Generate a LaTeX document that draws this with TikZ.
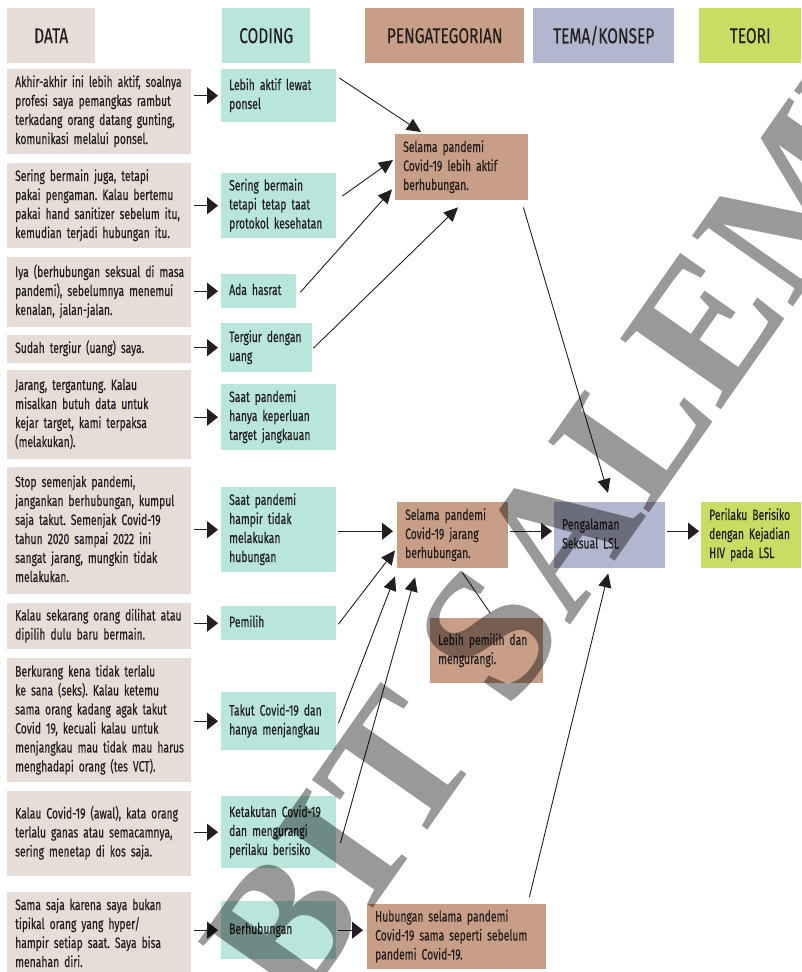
\documentclass[tikz,border=0pt]{standalone}
\usepackage{fontspec}
\setmainfont{Fira Sans}[FakeStretch=0.69, WordSpace=0.7, FakeBold=0.35]
\newfontfamily\headfont{Fira Sans}[FakeStretch=0.72, FakeBold=0.3]
\newfontfamily\markfont{Liberation Serif}
\usetikzlibrary{arrows.meta,calc}

\definecolor{ink}{HTML}{231F20}
\definecolor{datacol}{HTML}{E7DDD8}
\definecolor{codecol}{HTML}{B8E6DD}
\definecolor{catcol}{HTML}{C99E86}
\definecolor{temacol}{HTML}{B3B6CF}
\definecolor{teoricol}{HTML}{C9DC64}

% left-aligned lines that never wrap
\newcommand{\rows}[1]{\noindent\begin{tabular}{@{}l@{}}#1\end{tabular}}
\frenchspacing

\begin{document}
\begin{tikzpicture}[x=1pt,y=-1pt,
  bodyfont/.style={font=\fontsize{15}{19}\selectfont},
  box/.style={anchor=north west, inner xsep=8pt, inner ysep=0pt, align=left,
              text=ink, bodyfont},
  ht/.style={minimum height=#1},
  databox/.style={box, fill=datacol, text width=168pt},
  codebox/.style={box, fill=codecol, text width=99pt},
  catbox/.style={box, fill=catcol},
  head/.style={anchor=north west, inner sep=0pt, minimum height=55pt,
               text=ink, font=\headfont\fontsize{21.5}{24}\selectfont},
  shortarr/.style={ink, line width=1.3pt, -{Triangle[length=11pt,width=17pt]}},
  longarr/.style={ink, line width=0.9pt, -{Triangle[length=14pt,width=13pt]}},
  plain/.style={ink, line width=0.9pt}
]
\useasboundingbox (0,0) rectangle (801,972);

% column headers
\node[head, fill=datacol,  minimum width=88pt]  (hdata) at (7,8)   {DATA};
\node[head, fill=codecol,  minimum width=88pt]  (hcode) at (222,8) {CODING};
\node[head, fill=catcol,   minimum width=159pt] (hcat)  at (365,8) {PENGATEGORIAN};
\node[head, fill=temacol,  minimum width=141pt] (htema) at (533,8) {TEMA/KONSEP};
\node[head, fill=teoricol, minimum width=102pt] (hteori) at (699,8) {TEORI};

% data column
\node[databox, ht=85pt] (d1) at (7,69) {\rows{Akhir-akhir ini lebih aktif, soalnya\\profesi saya pemangkas rambut\\terkadang orang datang gunting,\\komunikasi melalui ponsel.}};
\node[databox, ht=85pt] (d2) at (7,163) {\rows{Sering bermain juga, tetapi\\pakai pengaman. Kalau bertemu\\pakai hand sanitizer sebelum itu,\\kemudian terjadi hubungan itu.}};
\node[databox, ht=70pt] (d3) at (7,257) {\rows{Iya (berhubungan seksual di masa\\pandemi), sebelumnya menemui\\kenalan, jalan-jalan.}};
\node[databox, ht=28pt] (d4) at (7,335) {\rows{Sudah tergiur (uang) saya.}};
\node[databox, ht=89pt] (d5) at (7,370) {\rows{Jarang, tergantung. Kalau\\misalkan butuh data untuk\\kejar target, kami terpaksa\\(melakukan).}};
\node[databox, ht=127pt] (d6) at (7,467) {\rows{Stop semenjak pandemi,\\jangankan berhubungan, kumpul\\saja takut. Semenjak Covid-19\\tahun 2020 sampai 2022 ini\\sangat jarang, mungkin tidak\\melakukan.}};
\node[databox, ht=46pt] (d7) at (7,603) {\rows{Kalau sekarang orang dilihat atau\\dipilih dulu baru bermain.}};
\node[databox, ht=124pt] (d8) at (7,658) {\rows{Berkurang kena tidak terlalu\\ke sana (seks). Kalau ketemu\\sama orang kadang agak takut\\Covid 19, kecuali kalau untuk\\menjangkau mau tidak mau harus\\menghadapi orang (tes VCT).}};
\node[databox, ht=85pt] (d9) at (7,791) {\rows{Kalau Covid-19 (awal), kata orang\\terlalu ganas atau semacamnya,\\sering menetap di kos saja.}};
\node[databox, ht=85pt] (d10) at (7,892) {\rows{Sama saja karena saya bukan\\tipikal orang yang hyper/\\hampir setiap saat. Saya bisa\\menahan diri.}};

% coding column
\node[codebox, ht=53pt] (c1) at (221,69) {\rows{Lebih aktif lewat\\ponsel}};
\node[codebox, ht=65pt] (c2) at (221,173) {\rows{Sering bermain\\tetapi tetap taat\\protokol kesehatan}};
\node[codebox, ht=34pt, text width=59pt] (c3) at (221,274) {\rows{Ada hasrat}};
\node[codebox, ht=49pt, text width=75pt] (c4) at (221,323) {\rows{Tergiur dengan\\uang}};
\node[codebox, ht=66pt] (c5) at (221,384) {\rows{Saat pandemi\\hanya keperluan\\target jangkauan}};
\node[codebox, ht=85pt] (c6) at (221,487) {\rows{Saat pandemi\\hampir tidak\\melakukan\\hubungan}};
\node[codebox, ht=34pt] (c7) at (221,606) {\rows{Pemilih}};
\node[codebox, ht=58pt] (c8) at (221,692) {\rows{Takut Covid-19 dan\\hanya menjangkau}};
\node[codebox, ht=72pt] (c9) at (221,796) {\rows{Ketakutan Covid-19\\dan mengurangi\\perilaku berisiko}};
\node[codebox, ht=58pt] (c10) at (221,901) {\rows{Berhubungan}};

% categories
\node[catbox, ht=66pt, text width=117pt] (k1) at (395,134) {\rows{Selama pandemi\\Covid-19 lebih aktif\\berhubungan.}};
\node[catbox, ht=66pt, text width=95pt] (k2) at (397,502) {\rows{Selama pandemi\\Covid-19 jarang\\berhubungan.}};
\node[catbox, ht=65pt, text width=97pt] (k3) at (430,618) {\rows{Lebih pemilih dan\\mengurangi.}};
\node[catbox, ht=65pt, text width=163pt] (k4) at (367,904) {\rows{Hubungan selama pandemi\\Covid-19 sama seperti sebelum\\pandemi Covid-19.}};

% theme and theory
\node[box, fill=temacol, ht=66pt, text width=95pt] (tema) at (554,502) {\rows{Pengalaman\\Seksual LSL}};
\node[box, fill=teoricol, ht=66pt, text width=84pt] (teori) at (701,502) {\rows{Perilaku Berisiko\\dengan Kejadian\\HIV pada LSL}};

% data -> coding
\foreach \i in {1,...,10}
  \draw[shortarr] ($(d\i.east |- c\i.west)+(3,0)$) -- ($(c\i.west)+(-3,0)$);

% coding -> categories
\draw[longarr] ($(c1.north east)+(3,9)$)  -- ($(k1.north west)+(26,-2)$);
\draw[longarr] ($(c2.north east)+(6,23)$) -- ($(k1.north west)+(-2,26)$);
\draw[longarr] ($(c3.east)+(4,1)$)        -- ($(k1.south west)+(-3,-11)$);
\draw[longarr] ($(c4.east)+(1,0.5)$)      -- ($(k1.south west)+(63,7)$);
\draw[shortarr, line width=1pt] ($(c6.east)+(2,1.5)$) -- ($(k2.west)+(-4,-4)$);
\draw[longarr] ($(c7.east)+(2,1)$)        -- ($(k2.south west)+(-2,-18)$);
\draw[longarr] ($(c8.east)+(2,2)$)        -- ($(k2.south west)+(-2,8)$);
\draw[longarr] ($(c9.north east)+(4,47)$) -- ($(k2.south west)+(18,9)$);
\draw[shortarr, line width=1pt] ($(c10.east)+(2,0)$) -- ($(k4.west |- c10.east)+(-4,0)$);

% categories -> theme -> theory
\draw[longarr] ($(k1.south east)+(-5,7)$) -- ($(tema.north west)+(54,-9)$);
\draw[shortarr, line width=1pt] ($(k2.east)+(2,-4)$) -- ($(tema.west)+(-2,-4)$);
\draw[longarr] ($(k4.north east)+(-17,-7)$) -- ($(tema.south)+(-1.5,5)$);
\draw[plain] ($(k2.south)+(9.5,4)$) -- ($(k3.north)+(3.5,-5)$);
\draw[shortarr, line width=1pt] ($(tema.east)+(2,-4)$) -- ($(teori.west)+(-2,-4)$);

% publisher watermark
\begin{scope}
  \clip (0,0) rectangle (801,972);
  \node[rotate=55, anchor=base, inner sep=0pt, text=black, text opacity=0.4,
        font=\markfont\bfseries\fontsize{188}{188}\selectfont] (mark) at (510,712)
        {\llap{PENERBIT\ }\rlap{SALEMBA}};
\end{scope}
\end{tikzpicture}
\end{document}
